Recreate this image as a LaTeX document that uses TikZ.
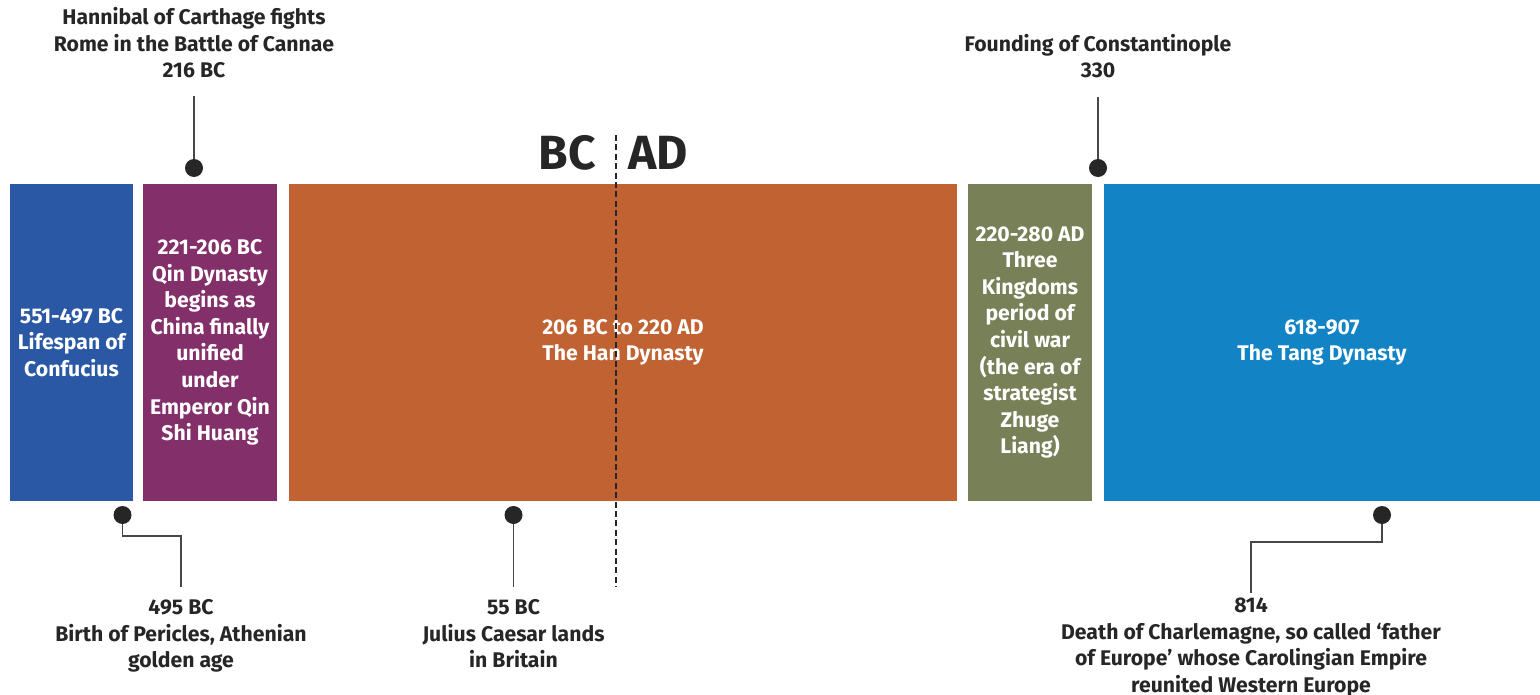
\documentclass[tikz,border=0pt]{standalone}
\usepackage{fontspec}
\setmainfont{Fira Sans}
\definecolor{ink}{HTML}{262626}
\definecolor{confucius}{HTML}{2A58A4}
\definecolor{qin}{HTML}{832F69}
\definecolor{han}{HTML}{C06232}
\definecolor{kingdoms}{HTML}{788058}
\definecolor{tang}{HTML}{1283C5}
\begin{document}
\begin{tikzpicture}[x=0.5pt,y=-0.5pt,
  every node/.style={font=\bfseries\fontsize{10.6}{13.3}\selectfont,align=center,inner sep=0pt,text=ink},
  eratext/.style={text=white},
  bigera/.style={font=\bfseries\fontsize{24}{28}\selectfont},
  dot/.style={circle,fill=ink,minimum size=9pt,inner sep=0pt},
  stem/.style={draw=ink!85,line width=0.75pt},
  divider/.style={draw=ink,line width=1.2pt,dash pattern=on 3pt off 1.7pt}]
% picture is measured in pixels of a 1540x695 page

  \useasboundingbox (0,0) rectangle (1540,695);
  \pgfmathsetmacro\btop{184}
  \pgfmathsetmacro\bbot{501}
  \pgfmathsetmacro\bmid{(\btop+\bbot)/2}

% era boxes
  \fill[confucius] (10,\btop) rectangle (133,\bbot);
  \fill[qin]       (143,\btop) rectangle (277,\bbot);
  \fill[han]       (289,\btop) rectangle (957,\bbot);
  \fill[kingdoms]  (968,\btop) rectangle (1092,\bbot);
  \fill[tang]      (1104,\btop) rectangle (1540,\bbot);

  \node[eratext] (confucius) at (71.5,\bmid) {551-497 BC\\Lifespan of\\Confucius};
  \node[eratext] (qin) at (210,\bmid) {221-206 BC\\Qin Dynasty\\begins as\\China finally\\unified\\under\\Emperor Qin\\Shi Huang};
  \node[eratext] (han) at (623,\bmid) {206 BC to 220 AD\\The Han Dynasty};
  \node[eratext] (kingdoms) at (1030,\bmid) {220-280 AD\\Three\\Kingdoms\\period of\\civil war\\(the era of\\strategist\\Zhuge\\Liang)};
  \node[eratext] (tang) at (1322,\bmid) {618-907\\The Tang Dynasty};

% BC / AD divider
  \coordinate (bcadtop) at (616,135);
  \coordinate (bcadbot) at (616,587);
  \draw[divider] (bcadtop) -- (bcadbot);
  \node[bigera,anchor=base east] (bc) at (596,170) {BC};
  \node[bigera,anchor=base west] (ad) at (628,170) {AD};

% events above the line
  \node[dot] (d216) at (194,168) {};
  \node[anchor=south] (l216) at (194,78.5) {Hannibal of Carthage fights\\Rome in the Battle of Cannae\\216 BC};
  \draw[stem,shorten >=8.75pt] (d216) -- (l216);

  \node[dot] (d330) at (1098,168) {};
  \node[anchor=south] (l330) at (1098,78.5) {Founding of Constantinople\\330};
  \draw[stem,shorten >=9.25pt] (d330) -- (l330);

% events below the line
  \node[dot] (d495) at (122.5,515) {};
  \coordinate (k495) at (181,536);
  \node[anchor=north] (l495) at (181,599) {495 BC\\Birth of Pericles, Athenian\\golden age};
  \draw[stem,shorten >=6pt] (d495) |- (k495) -- (l495);

  \node[dot] (d55) at (513.5,515) {};
  \node[anchor=north] (l55) at (513.5,599) {55 BC\\Julius Caesar lands\\in Britain};
  \draw[stem,shorten >=6pt] (d55) -- (l55);

  \node[dot] (d814) at (1382,515) {};
  \coordinate (k814) at (1251,542);
  \node[anchor=north] (l814) at (1251,597.5) {814\\Death of Charlemagne, so called `father\\of Europe' whose Carolingian Empire\\reunited Western Europe};
  \draw[stem,shorten >=2.25pt] (d814) |- (k814) -- (l814);

\end{tikzpicture}
\end{document}
